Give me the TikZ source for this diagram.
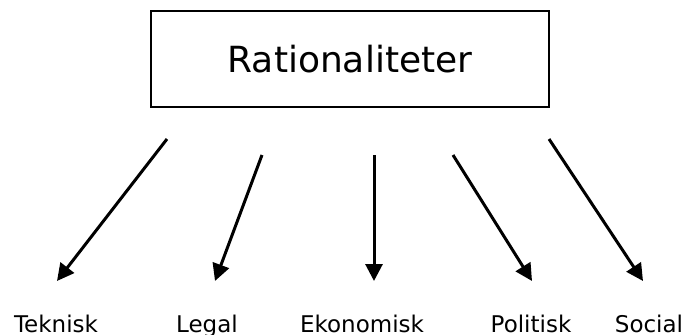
\documentclass[tikz,border=0pt]{standalone}
\usepackage{fontspec}
\setmainfont{DejaVu Sans}
\usetikzlibrary{arrows.meta}
\begin{document}
\begin{tikzpicture}[x=1pt,y=-1pt,
  titlebox/.style={draw, line width=1.5pt, minimum width=398pt, minimum height=96pt,
    inner sep=0pt, font=\fontsize{36}{40}\selectfont},
  label/.style={anchor=base, inner sep=0pt, font=\fontsize{23}{26}\selectfont},
  arrowline/.style={line width=3pt, -{Triangle[length=17pt,width=17pt]}}]
\useasboundingbox (0,0) rectangle (689,335);
\node[titlebox] (top) at (350,59) {Rationaliteter};
% arrow start points below the box
\coordinate (s1) at (167,139);
\coordinate (s2) at (262,155);
\coordinate (s3) at (374,155);
\coordinate (s4) at (453,155);
\coordinate (s5) at (549,139);
% arrow tips above the labels
\coordinate (t1) at (57,281);
\coordinate (t2) at (215,281);
\coordinate (t3) at (374,281);
\coordinate (t4) at (532,281);
\coordinate (t5) at (643,281);
\node[label] (tek) at (56,332) {Teknisk};
\node[label] (leg) at (207,332) {Legal};
\node[label] (eko) at (362,332) {Ekonomisk};
\node[label] (pol) at (531,332) {Politisk};
\node[label] (soc) at (649,332) {Social};
\foreach \i in {1,...,5} \draw[arrowline] (s\i) -- (t\i);
\end{tikzpicture}
\end{document}
